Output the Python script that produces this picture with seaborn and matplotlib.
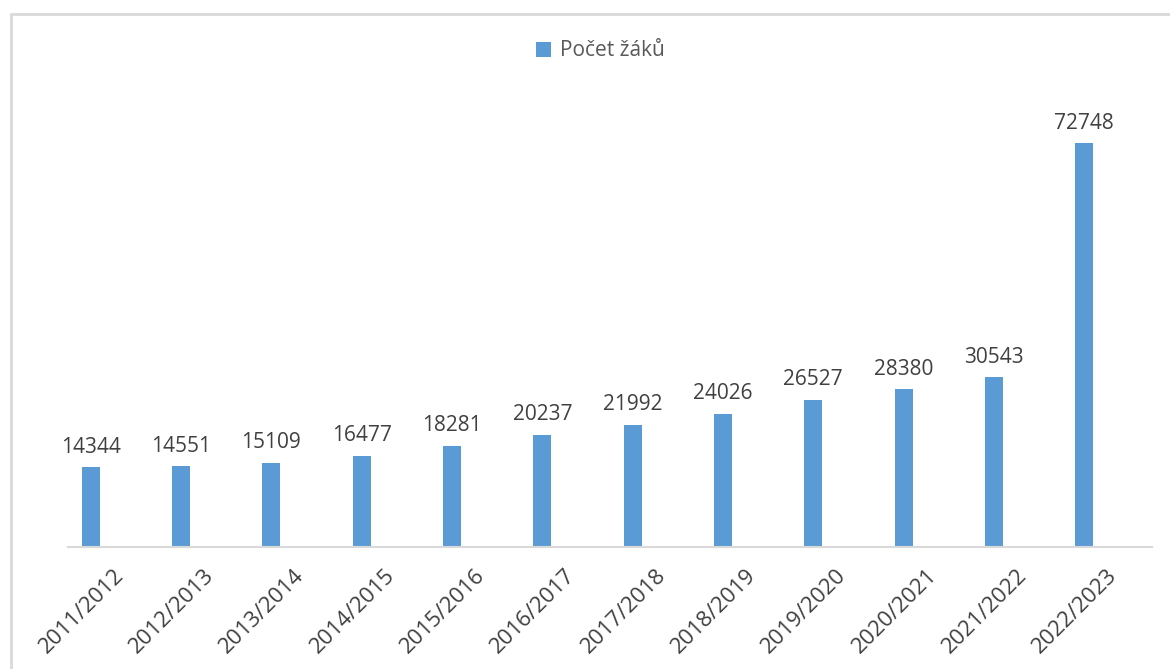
import matplotlib
matplotlib.use("Agg")
import matplotlib.pyplot as plt
import seaborn as sns
import pandas as pd
from matplotlib.patches import Patch
from matplotlib.lines import Line2D

years = ["2011/2012", "2012/2013", "2013/2014", "2014/2015", "2015/2016", "2016/2017",
         "2017/2018", "2018/2019", "2019/2020", "2020/2021", "2021/2022", "2022/2023"]
pocet_zaku = [14344, 14551, 15109, 16477, 18281, 20237, 21992, 24026, 26527, 28380, 30543, 72748]
series_name = "Počet žáků"

sns.set_theme(style="white")
plt.rcParams['font.family'] = ['Open Sans', 'DejaVu Sans']

df = pd.DataFrame({
    "rok": years * 2,
    "hodnota": pocet_zaku + [0] * len(years),
    "serie": [series_name] * len(years) + ["_skryta"] * len(years),
})

W, H = 1170, 669
fig = plt.figure(figsize=(W / 100, H / 100), dpi=100)
ax_left, ax_right = 68, 1152
ax_bottom_px, ax_top_px = 547, 103
ax = fig.add_axes([ax_left / W, (H - ax_bottom_px) / H,
                   (ax_right - ax_left) / W, (ax_bottom_px - ax_top_px) / H])

blue = "#5B9BD5"
sns.barplot(data=df, x="rok", y="hodnota", hue="serie",
            hue_order=[series_name, "_skryta"],
            palette=[blue, (1, 1, 1, 0)], saturation=1, width=1.0, gap=0.6,
            linewidth=0, legend=False, ax=ax, errorbar=None)

ax.set_ylim(0, 80000)
ax.set_xlim(-0.5, len(years) - 0.5)
ax.set_xlabel("")
ax.set_ylabel("")
ax.set_yticks([])
for s in ["top", "right", "left"]:
    ax.spines[s].set_visible(False)
ax.spines["bottom"].set_color("#D9D9D9")
ax.spines["bottom"].set_linewidth(1.5)
ax.tick_params(axis="x", length=0, pad=13)
ax.set_xticks(range(len(years)))
ax.set_xticklabels(years, rotation=45, ha="right", rotation_mode="anchor",
                   fontsize=16, color="#404040")

ax.bar_label(ax.containers[0], labels=[str(v) for v in pocet_zaku],
             padding=7, fontsize=15, color="#404040")

fig.legend(handles=[Patch(facecolor=blue, edgecolor="none", label=series_name)],
           loc="center", bbox_to_anchor=(600 / W, 1 - 51 / H), frameon=False,
           fontsize=15, labelcolor="#595959", handlelength=0.75, handleheight=0.75,
           handletextpad=0.4)

# chart border (left and top)
fig.add_artist(Line2D([11 / W, 11 / W], [0, 1 - 14 / H], transform=fig.transFigure,
                      color="#D9D9D9", linewidth=2))
fig.add_artist(Line2D([11 / W, 1], [1 - 14 / H, 1 - 14 / H], transform=fig.transFigure,
                      color="#D9D9D9", linewidth=2))

fig.savefig("out.png", dpi=100)
